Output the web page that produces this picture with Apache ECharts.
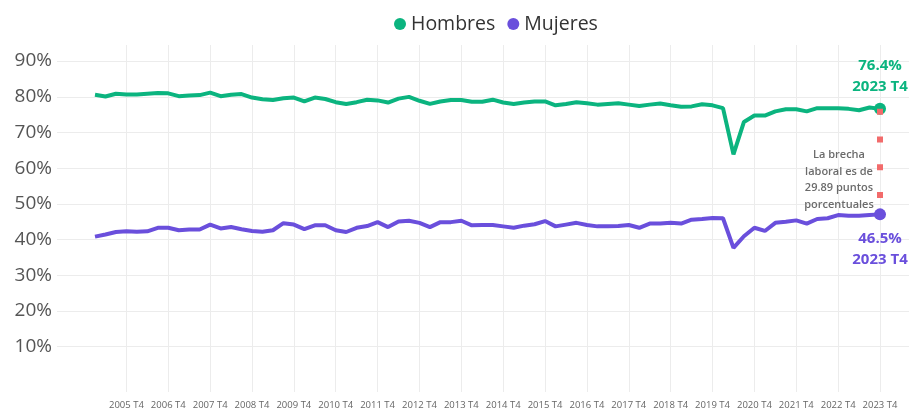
<!DOCTYPE html>
<html>
<head>
<meta charset="utf-8">
<script src="https://cdn.jsdelivr.net/npm/echarts@6/dist/echarts.min.js"></script>
<style>
  html, body { margin: 0; padding: 0; background: #fff; }
  #chart { width: 914px; height: 410px; }
</style>
</head>
<body>
<div id="chart"></div>
<script>
// periodos trimestrales 2005 T1 .. 2023 T4
const years = [2005, 2006, 2007, 2008, 2009, 2010, 2011, 2012, 2013, 2014,
  2015, 2016, 2017, 2018, 2019, 2020, 2021, 2022, 2023];
const quarters = ["T1", "T2", "T3", "T4"];
const categories = [];
years.forEach(function (y) {
  quarters.forEach(function (q) { categories.push(y + " " + q); });
});

// tasa de participación (%)
const hombres = [
  80.4, 79.9, 80.7, 80.5, 80.5, 80.7, 80.9, 80.8, 80.0, 80.2,
  80.3, 81.0, 80.0, 80.4, 80.6, 79.6, 79.1, 78.9, 79.4, 79.6,
  78.5, 79.6, 79.2, 78.3, 77.8, 78.3, 79.0, 78.8, 78.2, 79.3,
  79.8, 78.7, 77.8, 78.5, 78.9, 78.9, 78.4, 78.4, 79.0, 78.2,
  77.8, 78.2, 78.5, 78.5, 77.4, 77.8, 78.3, 78.0, 77.6, 77.8,
  78.0, 77.6, 77.2, 77.6, 77.9, 77.4, 77.0, 77.1, 77.7, 77.4,
  76.6, 63.5, 72.7, 74.5, 74.5, 75.7, 76.3, 76.3, 75.7, 76.6,
  76.6, 76.6, 76.4, 76.0, 76.8, 76.4
];
const mujeres = [
  40.2, 40.8, 41.5, 41.7, 41.6, 41.7, 42.7, 42.7, 42.0, 42.2,
  42.2, 43.6, 42.5, 42.9, 42.3, 41.8, 41.6, 42.0, 44.0, 43.6,
  42.3, 43.4, 43.4, 42.0, 41.5, 42.7, 43.2, 44.3, 42.9, 44.5,
  44.7, 44.1, 42.9, 44.3, 44.3, 44.7, 43.4, 43.5, 43.5, 43.1,
  42.7, 43.3, 43.7, 44.6, 43.1, 43.6, 44.1, 43.5, 43.1, 43.1,
  43.2, 43.5, 42.7, 43.9, 43.9, 44.1, 43.9, 45.0, 45.2, 45.5,
  45.4, 37.0, 40.3, 42.7, 41.8, 44.1, 44.4, 44.8, 43.9, 45.2,
  45.4, 46.3, 46.1, 46.1, 46.3, 46.5
];
// brecha reportada en el último trimestre (puntos porcentuales)
const brecha = 29.89;

const verde = "#0bb47f";
const morado = "#6a4fdc";
const last = categories.length - 1;

function esT4(i, v) { return String(v).slice(-2) === "T4"; }

function marcarUltimo(arr) {
  return arr.map(function (v, i) {
    if (i !== last) return v;
    return { value: v, symbolSize: 12, label: { show: true } };
  });
}

const chart = echarts.init(document.getElementById("chart"));
chart.setOption({
  animation: false,
  textStyle: { fontFamily: "Open Sans" },
  legend: {
    top: 9,
    left: 389,
    icon: "circle",
    itemWidth: 12,
    itemHeight: 12,
    itemGap: 12,
    textStyle: { fontSize: 19.5, color: "#333" },
    data: ["Hombres", "Mujeres"]
  },
  grid: [
    // fondo: etiquetas y líneas horizontales
    { left: 57, right: 5, top: 45, bottom: 27.7 },
    // datos
    { left: 95, right: 34, top: 45, bottom: 14 }
  ],
  xAxis: [
    { gridIndex: 0, type: "value", min: 0, max: 1, show: false },
    {
      gridIndex: 1,
      type: "category",
      data: categories,
      boundaryGap: false,
      axisLine: { show: false },
      axisTick: { show: false },
      axisLabel: { interval: esT4, fontSize: 9.5, color: "#666", margin: 8 },
      splitLine: { show: true, interval: esT4, lineStyle: { color: "#ececec" } }
    }
  ],
  yAxis: [
    {
      gridIndex: 0,
      type: "value",
      min: 0,
      max: 94.5,
      interval: 10,
      axisLine: { show: false },
      axisTick: { show: false },
      axisLabel: {
        fontSize: 19,
        color: "#555",
        margin: 5,
        showMinLabel: false,
        showMaxLabel: false,
        formatter: function (v) {
          return (v > 0 && v % 10 === 0) ? v + "%" : "";
        }
      },
      splitLine: {
        show: true,
        showMinLine: false,
        showMaxLine: false,
        lineStyle: { color: "#ececec" }
      }
    },
    { gridIndex: 1, type: "value", min: -3.84, max: 94.5, show: false }
  ],
  series: [
    {
      name: "Hombres",
      type: "line",
      xAxisIndex: 1,
      yAxisIndex: 1,
      z: 3,
      data: marcarUltimo(hombres),
      color: verde,
      lineStyle: { width: 4, color: verde },
      symbol: "circle",
      symbolSize: 0,
      showAllSymbol: true,
      emphasis: { disabled: true },
      label: {
        show: false,
        position: "top",
        distance: 6,
        fontSize: 15,
        fontWeight: "bold",
        lineHeight: 21,
        color: verde,
        formatter: function (p) { return p.value.toFixed(1) + "%\n" + p.name; }
      }
    },
    {
      name: "Mujeres",
      type: "line",
      xAxisIndex: 1,
      yAxisIndex: 1,
      z: 2,
      data: marcarUltimo(mujeres),
      color: morado,
      lineStyle: { width: 4, color: morado },
      symbol: "circle",
      symbolSize: 0,
      showAllSymbol: true,
      emphasis: { disabled: true },
      label: {
        show: false,
        position: "bottom",
        distance: 8,
        fontSize: 15,
        fontWeight: "bold",
        lineHeight: 21,
        color: morado,
        formatter: function (p) { return p.value.toFixed(1) + "%\n" + p.name; }
      },
      markLine: {
        silent: true,
        symbol: ["none", "none"],
        label: { show: false },
        lineStyle: { color: "#f26b6b", width: 6, type: [6, 21.7], cap: "butt" },
        data: [[
          { coord: [categories[last], hombres[last]] },
          { coord: [categories[last], mujeres[last]] }
        ]]
      },
      markPoint: {
        silent: true,
        symbolSize: 0,
        data: [{
          coord: [categories[last], (hombres[last] + mujeres[last]) / 2],
          label: {
            show: true,
            position: "inside",
            offset: [-41, 18],
            align: "center",
            fontSize: 11,
            fontWeight: 600,
            lineHeight: 16.5,
            color: "#6b6b6b",
            formatter: "La brecha\nlaboral es de\n" + brecha.toFixed(2) + " puntos\nporcentuales"
          }
        }]
      }
    }
  ]
});
</script>
</body>
</html>
